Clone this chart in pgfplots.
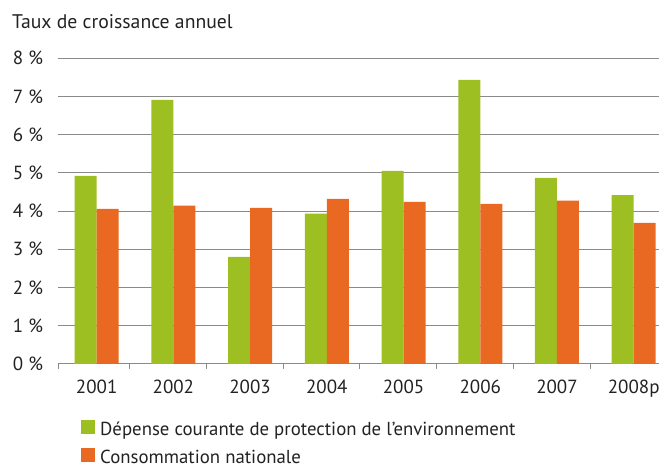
\documentclass[border=0pt]{standalone}
\usepackage{fontspec}
\setmainfont{PT Sans}
\usepackage{pgfplots}
\pgfplotsset{compat=1.18}
\definecolor{vert}{HTML}{9EBF22}
\definecolor{orangeb}{HTML}{E96922}
\definecolor{grille}{HTML}{8A8A8A}
\definecolor{texte}{HTML}{222222}
\begin{document}
\begin{tikzpicture}[font=\fontsize{19}{22}\selectfont, text=texte]
\useasboundingbox (-58.3pt,-104pt) rectangle (600.7pt,363.9pt);
\begin{axis}[
  scale only axis, width=600.7pt, height=305.7pt,
  xmin=-0.5, xmax=7.33, ymin=0, ymax=8,
  axis lines*=left, axis line style={draw=none},
  ybar=0pt, bar width=22pt,
  xtick={0,...,7},
  xticklabels={2001,2002,2003,2004,2005,2006,2007,2008p},
  ytick={0,...,8},
  yticklabels={0 \%,1 \%,2 \%,3 \%,4 \%,5 \%,6 \%,7 \%,8 \%},
  major tick length=0pt,
  extra x ticks={-0.5,0.43,1.43,2.43,3.43,4.43,5.43,6.43},
  extra x tick labels={},
  extra x tick style={grid=none, major tick length=5pt, tick align=outside,
    major tick style={grille, line width=0.9pt}},
  ymajorgrids, major grid style={grille, line width=0.9pt},
  yticklabel style={anchor=east, inner sep=0pt, xshift=-15pt, text=texte},
  xticklabel style={anchor=north, inner sep=0pt, yshift=-16pt, text=texte},
  legend style={at={(rel axis cs:0,0)}, anchor=north west, xshift=22.7pt, yshift=-56pt,
    draw=none, fill=none, inner sep=0pt, row sep=8pt,
    nodes={inner sep=0pt, text=texte, text height=13pt, text depth=4pt, font=\fontsize{18.8}{22}\selectfont}},
  legend cell align=left,
  legend image code/.code={\fill[#1,draw=none] (0pt,-3pt) rectangle (14pt,11pt);},
]
\addplot[fill=vert, draw=none] coordinates {
 (0,4.92) (1,6.91) (2,2.80) (3,3.93) (4,5.05) (5,7.43) (6,4.87) (7,4.42)};
\addlegendentry{\hspace{5pt}Dépense courante de protection de l’environnement}
\addplot[fill=orangeb, draw=none] coordinates {
 (0,4.06) (1,4.14) (2,4.08) (3,4.32) (4,4.24) (5,4.19) (6,4.27) (7,3.69)};
\addlegendentry{\hspace{5pt}Consommation nationale}
\end{axis}
\node[anchor=base west, inner sep=0pt, text=texte, font=\fontsize{19.7}{22}\selectfont] at (-46.3pt,334.9pt) {Taux de croissance annuel};
\end{tikzpicture}
\end{document}
